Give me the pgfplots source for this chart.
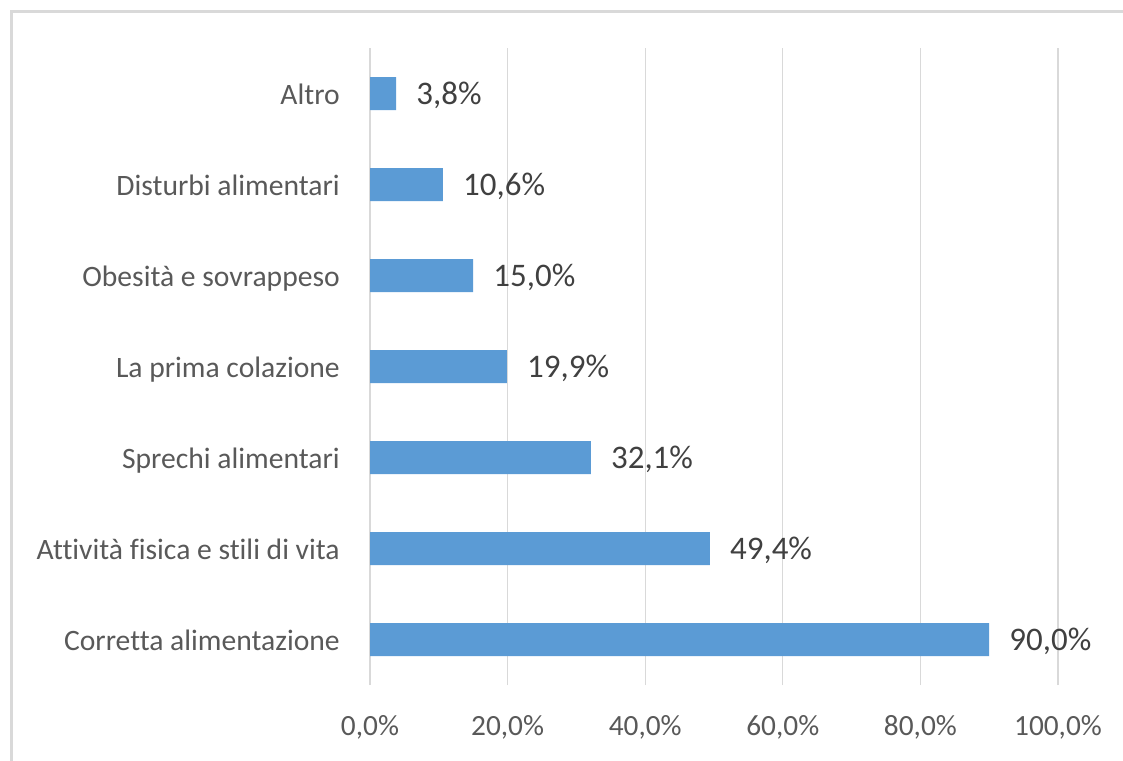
\documentclass[border=0pt]{standalone}
\usepackage{fontspec}
\setmainfont{Carlito}[Ligatures=NoCommon]
\usepackage{pgfplots}
\pgfplotsset{compat=1.18}

\definecolor{barblue}{HTML}{5B9BD5}
\definecolor{gridgray}{HTML}{D9D9D9}
\definecolor{framegray}{HTML}{D9D9D9}
\definecolor{labelgray}{HTML}{595959}
\definecolor{datagray}{HTML}{404040}

\begin{document}
\begin{tikzpicture}
% page = 1123 x 760 px, 1px = 0.75pt
\path[use as bounding box] (0,0) rectangle (842.25pt,-570pt);
\draw[framegray, line width=2.2pt] (8.6pt,-571pt) -- (8.6pt,-8.6pt) -- (843pt,-8.6pt);

\begin{axis}[
    at={(277.5pt,-513.75pt)}, anchor=south west,
    scale only axis,
    width=516pt, height=477.75pt,
    xbar, bar width=24.75pt,
    xmin=0, xmax=100,
    ymin=-0.5, ymax=6.5,
    xtick={0,20,40,60,80,100},
    xticklabels={{0,0\%}, {20,0\%}, {40,0\%}, {60,0\%}, {80,0\%}, {100,0\%}},
    ytick={0,1,2,3,4,5,6},
    yticklabels={Corretta alimentazione, Attività fisica e stili di vita,
        Sprechi alimentari, La prima colazione, Obesità e sovrappeso,
        Disturbi alimentari, Altro},
    axis line style={draw=none},
    major tick length=0pt,
    xmajorgrids, ymajorgrids=false,
    grid style={gridgray, line width=1pt},
    xticklabel style={font=\fontsize{22}{26}\selectfont, text=labelgray,
        anchor=base, inner sep=0pt, yshift=-37.5pt},
    yticklabel style={font=\fontsize{22.2}{26}\selectfont, text=labelgray,
        anchor=base east, inner sep=0pt, xshift=-22.5pt, yshift=-7.9pt},
    point meta=explicit symbolic,
    nodes near coords,
    nodes near coords style={font=\fontsize{24.7}{28}\selectfont, text=datagray,
        anchor=base west, inner sep=0pt, xshift=15pt, yshift=-8.6pt},
    clip=false,
]
\addplot[fill=barblue, draw=none] coordinates {
    (90.0,0) [90,0\%]
    (49.4,1) [49,4\%]
    (32.1,2) [32,1\%]
    (19.9,3) [19,9\%]
    (15.0,4) [15,0\%]
    (10.6,5) [10,6\%]
    (3.8,6)  [3,8\%]
};
\end{axis}
\end{tikzpicture}
\end{document}
